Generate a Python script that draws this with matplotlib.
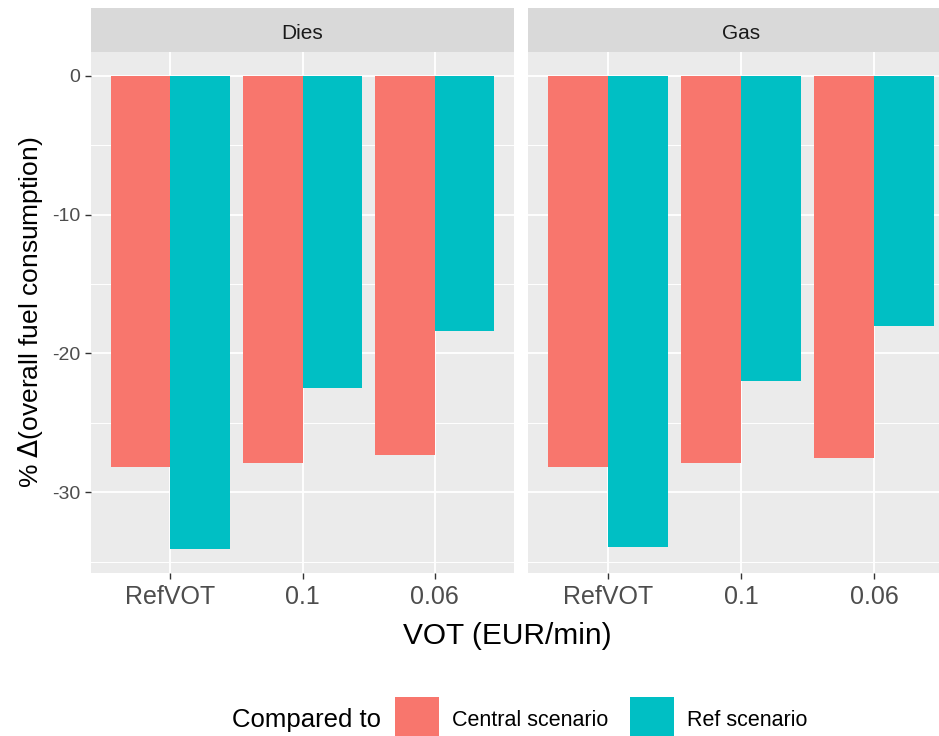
import numpy as np
import matplotlib
matplotlib.use("Agg")
import matplotlib.pyplot as plt
from matplotlib.patches import Patch

plt.rcParams['font.family'] = ['Liberation Sans', 'DejaVu Sans']

# data
fuels = ['Dies', 'Gas']
vot_levels = ['RefVOT', '0.1', '0.06']
central_vs = {'Dies': [-28.2, -27.9, -27.3], 'Gas': [-28.2, -27.9, -27.5]}
ref_vs = {'Dies': [-34.1, -22.5, -18.4], 'Gas': [-33.9, -22.0, -18.0]}
y_major = [0, -10, -20, -30]
y_minor = [-5, -15, -25, -35]

c_central = '#F8766D'
c_ref = '#00BFC4'

W, H = 939, 736
fig = plt.figure(figsize=(W / 100, H / 100), dpi=100)


def px_box(x0, x1, y0, y1):
    # pixel box (top-left origin) -> figure fraction rect
    return [x0 / W, 1 - y1 / H, (x1 - x0) / W, (y1 - y0) / H]


panels = [(91, 514), (528, 954)]
top, strip_top, bottom = 52, 8, 573
all_vals = [v for f in fuels for v in central_vs[f] + ref_vs[f]]
lo = min(all_vals + [0])
span = 0 - lo
ylim = (lo - 0.05 * span, 0 + 0.05 * span)

x = np.arange(1, len(vot_levels) + 1)
bw = 0.45

for i, fuel in enumerate(fuels):
    x0, x1 = panels[i]
    ax = fig.add_axes(px_box(x0, x1, top, bottom))
    ax.set_facecolor('#EBEBEB')
    for s in ax.spines.values():
        s.set_visible(False)
    ax.set_xlim(0.4, 3.6)
    ax.set_ylim(*ylim)
    ax.set_yticks(y_major)
    ax.set_yticks(y_minor, minor=True)
    ax.set_xticks(x)
    ax.grid(True, which='major', color='white', linewidth=1.3)
    ax.grid(True, which='minor', axis='y', color='white', linewidth=0.7)
    ax.set_axisbelow(True)

    ax.bar(x - bw / 2, central_vs[fuel], width=bw, color=c_central, linewidth=0)
    ax.bar(x + bw / 2, ref_vs[fuel], width=bw, color=c_ref, linewidth=0)

    ax.set_xticklabels(vot_levels, fontsize=18, color='#4D4D4D')
    ax.tick_params(axis='x', length=4, width=1, color='#333333', pad=5)
    ax.tick_params(which='minor', length=0)
    if i == 0:
        ax.set_yticklabels([str(v) for v in y_major], fontsize=14, color='#4D4D4D')
        ax.tick_params(axis='y', length=4, width=1, color='#333333', pad=4)
        ax.set_ylabel(r'% $\mathit{\Delta}$(overall fuel consumption)', fontsize=19,
                      color='black', labelpad=5)
    else:
        ax.tick_params(axis='y', length=0, labelleft=False)

    sax = fig.add_axes(px_box(x0, x1, strip_top, top))
    sax.set_facecolor('#D9D9D9')
    sax.set_xticks([])
    sax.set_yticks([])
    for s in sax.spines.values():
        s.set_visible(False)
    sax.text(0.5, 0.42, fuel, ha='center', va='center', fontsize=15,
             color='#1A1A1A', transform=sax.transAxes)

fig.text(507 / W, 1 - 636 / H, 'VOT (EUR/min)', ha='center', va='center', fontsize=21.5)

fig.text(232 / W, 1 - 720 / H, 'Compared to', ha='left', va='center', fontsize=18.5)
handles = [Patch(facecolor=c_central, edgecolor='none', label='Central scenario'),
           Patch(facecolor=c_ref, edgecolor='none', label='Ref scenario')]
fig.legend(handles=handles, loc='upper left', bbox_to_anchor=(395 / W, 1 - 697 / H),
           ncol=2, frameon=False, fontsize=15.5, handlelength=2.05, handleheight=2.8,
           handletextpad=0.6, columnspacing=1.0, borderpad=0, borderaxespad=0)

fig.savefig('out.png', dpi=100)
